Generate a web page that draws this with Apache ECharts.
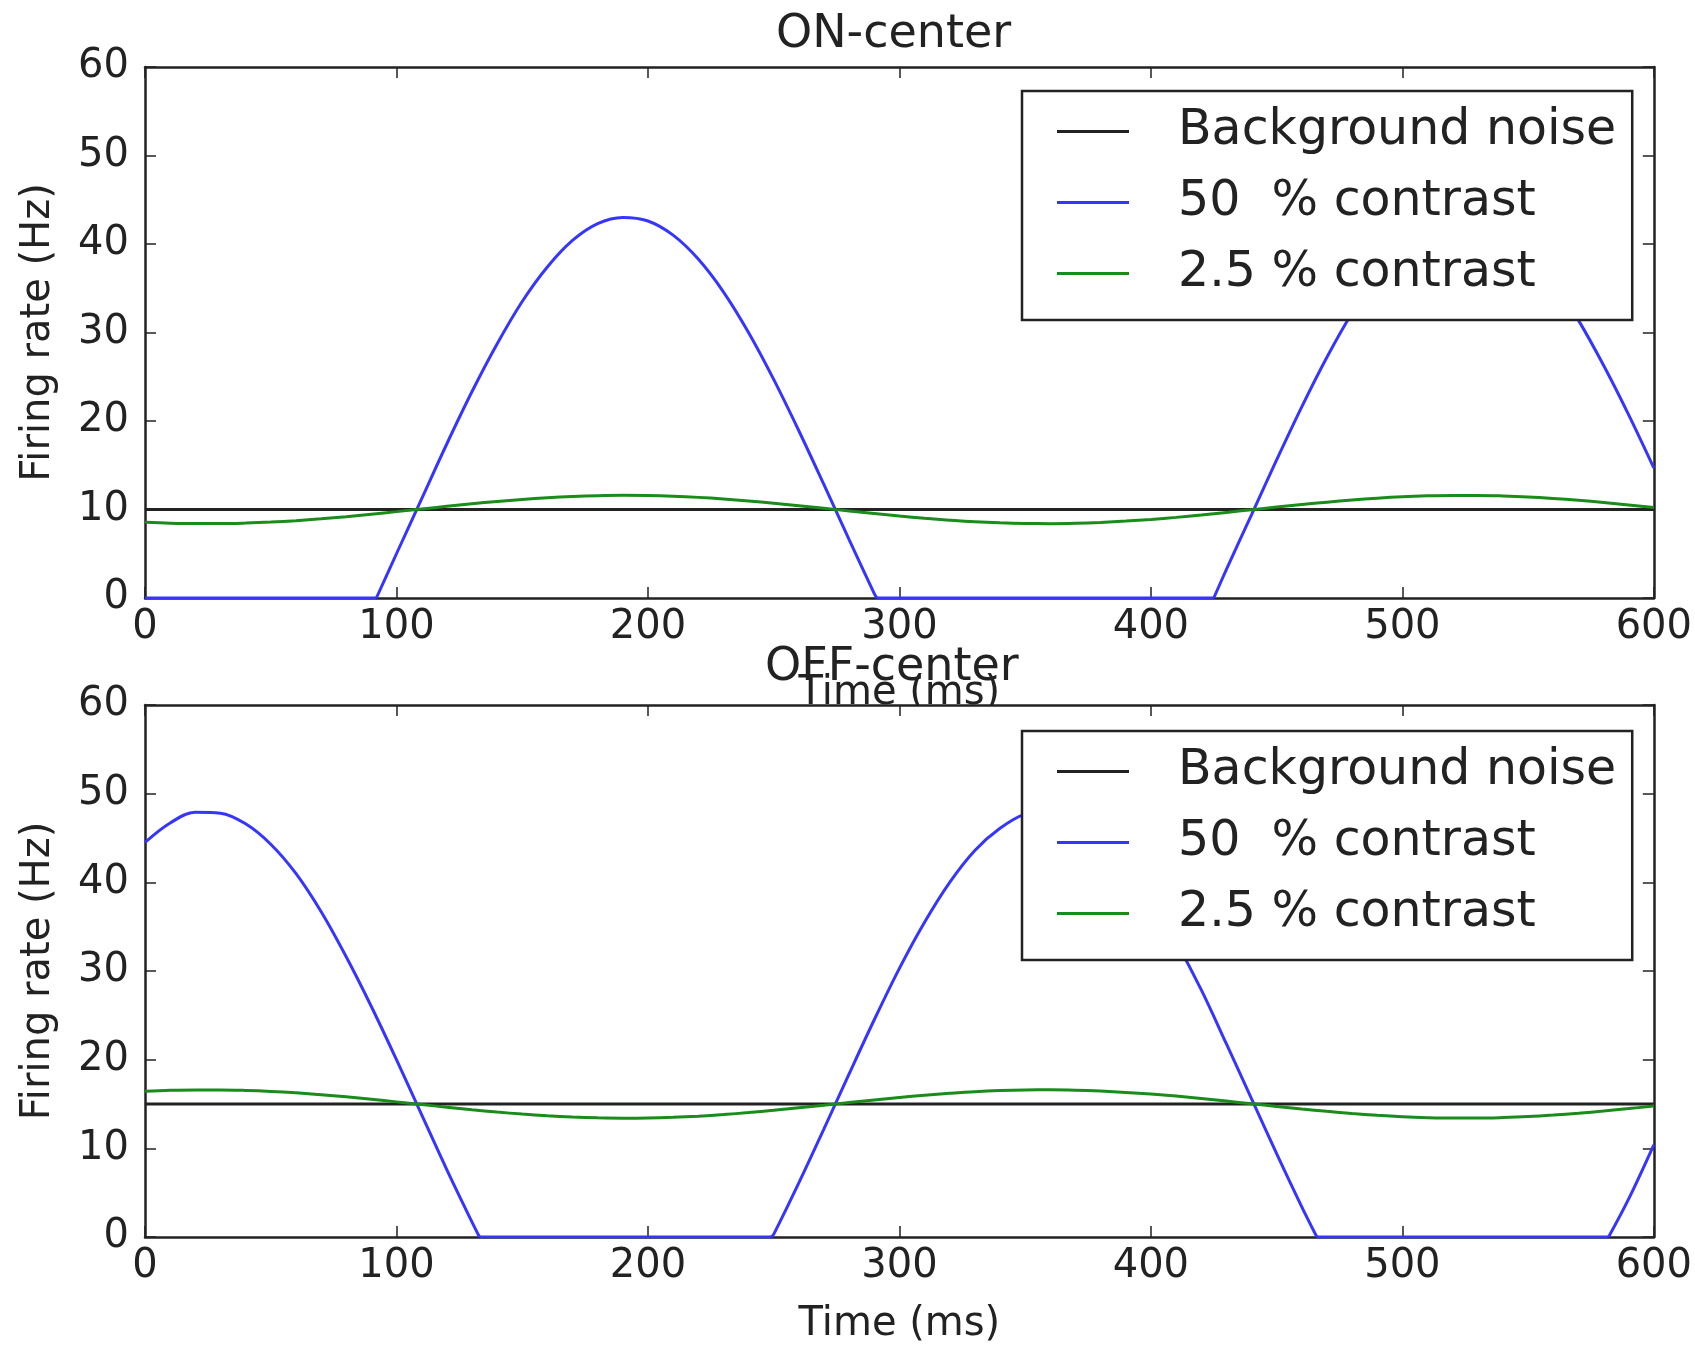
<!DOCTYPE html>
<html>
<head>
<meta charset="utf-8">
<script src="https://cdn.jsdelivr.net/npm/echarts@6/dist/echarts.min.js"></script>
<style>
  html, body { margin: 0; padding: 0; background: #fff; }
  #chart { width: 1695px; height: 1351px; }
</style>
</head>
<body>
<div id="chart"></div>
<script>
// time axis in ms, one sample every 10 ms
const time = [
  0, 10, 20, 30, 40, 50, 60, 70, 80, 90,
  100, 110, 120, 130, 140, 150, 160, 170, 180, 190,
  200, 210, 220, 230, 240, 250, 260, 270, 280, 290,
  300, 310, 320, 330, 340, 350, 360, 370, 380, 390,
  400, 410, 420, 430, 440, 450, 460, 470, 480, 490,
  500, 510, 520, 530, 540, 550, 560, 570, 580, 590, 600
];
const noiseTime = [0, 600];

// ON-center
const onNoise = [10, 10];
// the 50 % trace has its own samples so the clipped corners land where they are
const onHighTime = [
  0, 10, 20, 30, 40, 50, 60, 70, 80, 90, 92,
  100, 110, 120, 130, 140, 150, 160, 170, 180, 190,
  200, 210, 220, 230, 240, 250, 260, 270, 280, 290, 291,
  300, 310, 320, 330, 340, 350, 360, 370, 380, 390,
  400, 410, 420, 425, 430, 440, 450, 460, 470, 480, 490,
  500, 510, 520, 530, 540, 550, 560, 570, 580, 590, 600
];
const onHigh = [
  0, 0, 0, 0, 0, 0, 0, 0, 0, 0, 0,
  5.0, 11.2, 17.4, 23.3, 28.7, 33.5, 37.4, 40.4, 42.3, 43.0,
  42.6, 41.0, 38.3, 34.6, 30.0, 24.7, 18.9, 12.8, 6.6, 0.5, 0,
  0, 0, 0, 0, 0, 0, 0, 0, 0, 0,
  0, 0, 0, 0, 3.2, 9.4, 15.6, 21.6, 27.2, 32.2, 36.4,
  39.6, 41.8, 42.9, 42.8, 41.6, 39.2, 35.8, 31.4, 26.3, 20.7, 14.7
];
const onLow = [
  8.57, 8.46, 8.41, 8.41, 8.47, 8.58, 8.74, 8.95, 9.19, 9.47,
  9.76, 10.06, 10.36, 10.65, 10.91, 11.14, 11.33, 11.47, 11.56, 11.6,
  11.58, 11.5, 11.37, 11.19, 10.97, 10.71, 10.43, 10.14, 9.83, 9.54,
  9.26, 9.0, 8.79, 8.61, 8.49, 8.42, 8.4, 8.44, 8.54, 8.69,
  8.88, 9.11, 9.38, 9.67, 9.97, 10.27, 10.56, 10.83, 11.07, 11.28,
  11.44, 11.54, 11.59, 11.59, 11.53, 11.42, 11.25, 11.04, 10.79, 10.52, 10.23
];

// OFF-center
const offNoise = [15, 15];
const offHighTime = [
  0, 10, 20, 30, 40, 50, 60, 70, 80, 90,
  100, 110, 120, 130, 133, 140, 150, 160, 170, 180, 190,
  200, 210, 220, 230, 240, 249, 250, 260, 270, 280, 290,
  300, 310, 320, 330, 340, 350, 360, 370, 380, 390,
  400, 410, 420, 430, 440, 450, 460, 466, 470, 480, 490,
  500, 510, 520, 530, 540, 550, 560, 570, 580, 582, 590, 600
];
const offHigh = [
  44.5, 46.7, 47.9, 47.8, 46.6, 44.3, 41.0, 36.7, 31.6, 26.0,
  20.0, 13.8, 7.6, 1.7, 0, 0, 0, 0, 0, 0, 0,
  0, 0, 0, 0, 0, 0, 0.3, 6.1, 12.2, 18.4, 24.5,
  30.3, 35.5, 40.0, 43.6, 46.1, 47.7, 48.0, 47.1, 45.1, 42.1,
  38.1, 33.3, 27.9, 21.8, 15.6, 9.4, 3.4, 0, 0, 0, 0,
  0, 0, 0, 0, 0, 0, 0, 0, 0, 0, 4.3, 10.4
];
const offLow = [
  16.43, 16.54, 16.59, 16.59, 16.53, 16.42, 16.26, 16.05, 15.81, 15.53,
  15.24, 14.94, 14.64, 14.35, 14.09, 13.86, 13.67, 13.53, 13.44, 13.4,
  13.42, 13.5, 13.63, 13.81, 14.03, 14.29, 14.57, 14.86, 15.17, 15.46,
  15.74, 16.0, 16.21, 16.39, 16.51, 16.58, 16.6, 16.56, 16.46, 16.31,
  16.12, 15.89, 15.62, 15.33, 15.03, 14.73, 14.44, 14.17, 13.93, 13.72,
  13.56, 13.46, 13.41, 13.41, 13.47, 13.58, 13.75, 13.96, 14.21, 14.48, 14.77
];

const xTicks = [0, 600, 100];
const yTicks = [0, 60, 10];
const names = ['Background noise', '50  % contrast', '2.5 % contrast'];

const FONT = 'DejaVu Sans';
const INK = '#222';
const colors = ['#222222', '#3535ff', '#1a8c1a'];

const pairs = (xs, ys) => xs.map((x, i) => [x, ys[i]]);

// split a rectified trace: humps (drawn smooth) and the flat zero stretches (straight)
const humps = (xs, ys) =>
  xs.map((x, i) =>
    ys[i] > 0 || ys[i - 1] > 0 || ys[i + 1] > 0 ? [x, ys[i]] : [x, null]
  );
const rests = (xs, ys) => xs.map((x, i) => (ys[i] === 0 ? [x, 0] : [x, null]));

const frameAxis = (gridIndex, pos, showLabel, extra) => {
  const vertical = pos === 'left' || pos === 'right';
  const ticks = vertical ? yTicks : xTicks;
  return Object.assign(
    {
      type: 'value',
      gridIndex,
      position: pos,
      min: ticks[0],
      max: ticks[1],
      interval: ticks[2],
      z: 3,
      axisLine: { show: true, onZero: false, lineStyle: { color: INK, width: 2.5 } },
      axisTick: { show: true, inside: true, length: 11, lineStyle: { color: INK, width: 1.5 } },
      axisLabel: {
        show: showLabel,
        color: INK,
        fontFamily: FONT,
        fontSize: 40,
        margin: pos === 'left' ? 16 : 10
      },
      splitLine: { show: false }
    },
    extra || {}
  );
};

const xName = gap => ({
  name: 'Time (ms)',
  nameLocation: 'middle',
  nameGap: gap,
  nameTextStyle: { color: INK, fontFamily: FONT, fontSize: 40 }
});
const yName = {
  name: 'Firing rate (Hz)',
  nameLocation: 'middle',
  nameGap: 86,
  nameTextStyle: { color: INK, fontFamily: FONT, fontSize: 40 }
};

const legendFor = top => ({
  orient: 'vertical',
  left: 1022,
  top,
  data: names,
  icon: 'rect',
  itemWidth: 72,
  itemHeight: 3,
  itemGap: 22,
  padding: [16, 16, 22, 35],
  backgroundColor: '#fff',
  borderColor: INK,
  borderWidth: 2.5,
  borderRadius: 0,
  textStyle: {
    color: INK,
    fontFamily: FONT,
    fontSize: 49,
    padding: [0, 0, 0, 44]
  }
});

const lineSeries = (name, xIdx, yIdx, data, color, smooth) => ({
  name,
  type: 'line',
  xAxisIndex: xIdx,
  yAxisIndex: yIdx,
  data,
  symbol: 'none',
  smooth: smooth ? 0.35 : false,
  connectNulls: false,
  lineStyle: { color, width: 3 },
  itemStyle: { color },
  animation: false
});

const myChart = echarts.init(document.querySelector('#chart'), null, { renderer: 'canvas' });

const option = {
  backgroundColor: '#fff',
  animation: false,
  title: [
    {
      text: 'ON-center',
      left: 776,
      top: 12,
      padding: 0,
      textStyle: { color: INK, fontFamily: FONT, fontSize: 46, fontWeight: 'normal' }
    },
    {
      text: 'OFF-center',
      left: 765,
      top: 645,
      padding: 0,
      textStyle: { color: INK, fontFamily: FONT, fontSize: 46, fontWeight: 'normal' }
    }
  ],
  legend: [legendFor(91), legendFor(731)],
  grid: [
    { left: 145, right: 39, top: 67, height: 531 },
    // white face of the lower panel hides the tail of the upper x label
    { left: 145, right: 39, top: 705, height: 532, show: true, backgroundColor: '#fff', borderWidth: 0, z: 1 }
  ],
  xAxis: [
    frameAxis(0, 'bottom', true, Object.assign(xName(76), { z: 0 })),
    frameAxis(0, 'top', false),
    frameAxis(1, 'bottom', true, xName(68)),
    frameAxis(1, 'top', false)
  ],
  yAxis: [
    frameAxis(0, 'left', true, yName),
    frameAxis(0, 'right', false),
    frameAxis(1, 'left', true, yName),
    frameAxis(1, 'right', false)
  ],
  series: [
    lineSeries(names[0], 0, 0, pairs(noiseTime, onNoise), colors[0], false),
    lineSeries(names[1], 0, 0, rests(onHighTime, onHigh), colors[1], false),
    lineSeries(names[1], 0, 0, humps(onHighTime, onHigh), colors[1], true),
    lineSeries(names[2], 0, 0, pairs(time, onLow), colors[2], true),
    lineSeries(names[0], 2, 2, pairs(noiseTime, offNoise), colors[0], false),
    lineSeries(names[1], 2, 2, rests(offHighTime, offHigh), colors[1], false),
    lineSeries(names[1], 2, 2, humps(offHighTime, offHigh), colors[1], true),
    lineSeries(names[2], 2, 2, pairs(time, offLow), colors[2], true)
  ]
};

myChart.setOption(option);
</script>
</body>
</html>
